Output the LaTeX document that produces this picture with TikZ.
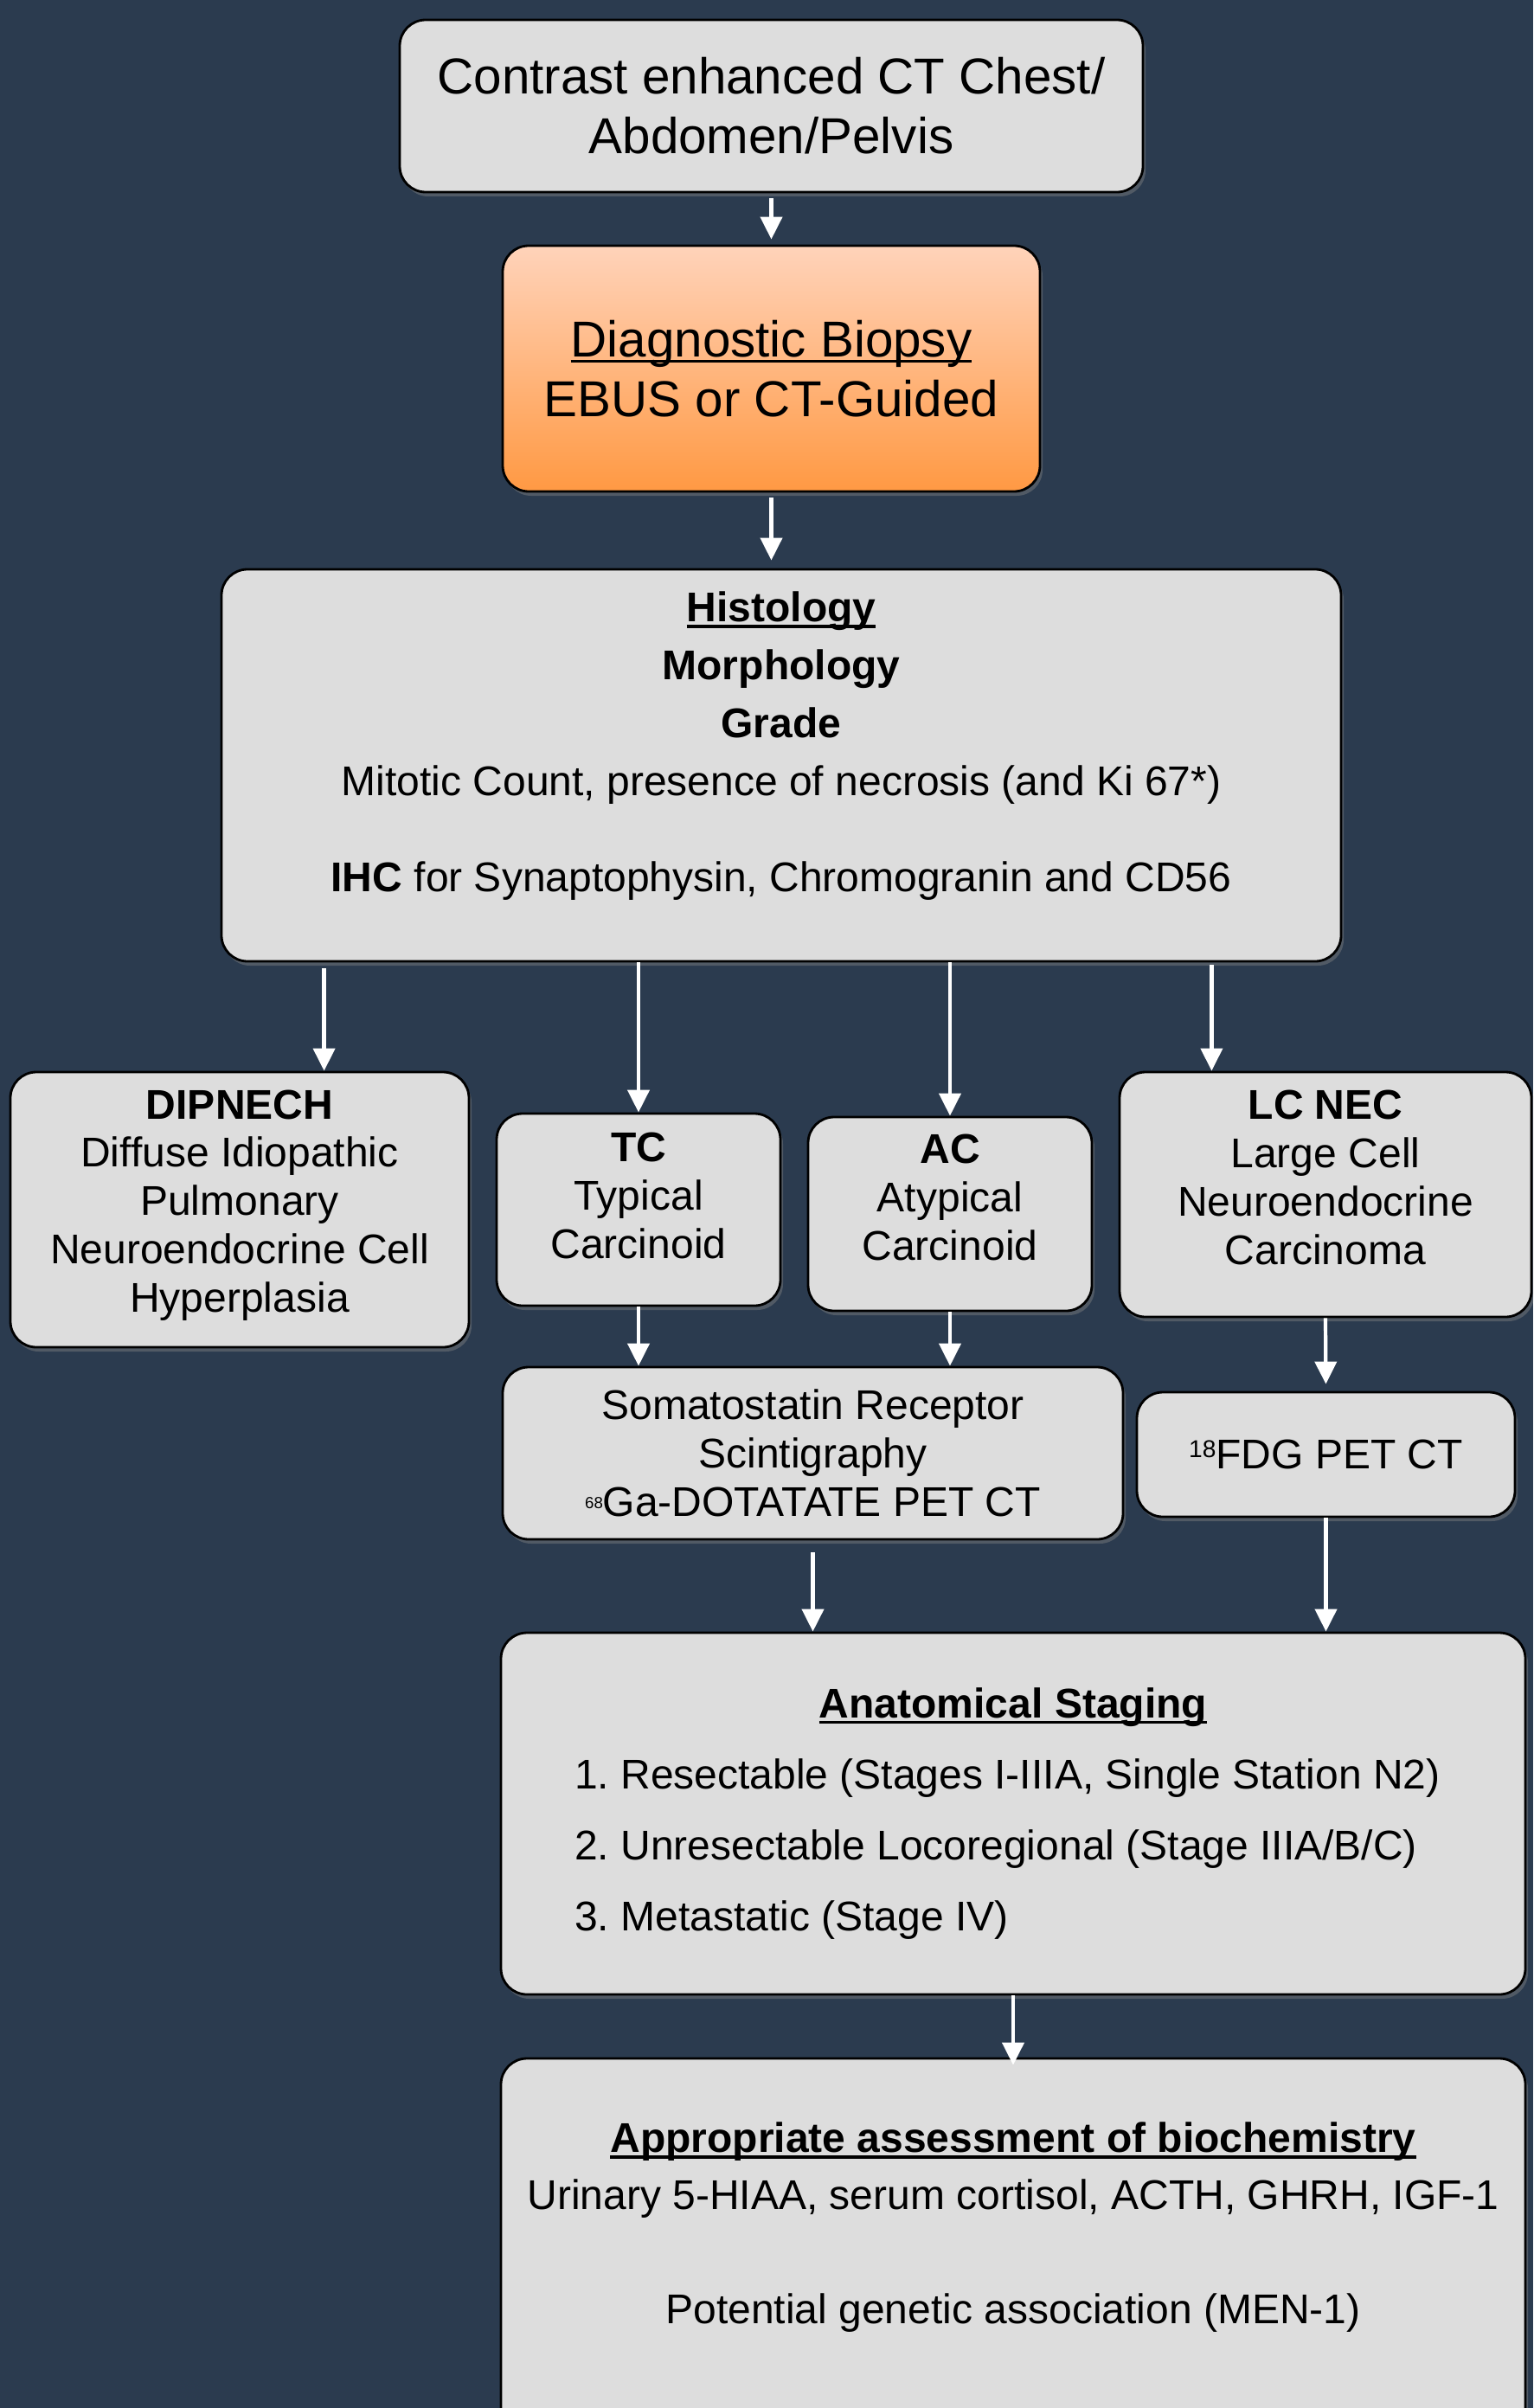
\documentclass[tikz,border=0pt]{standalone}
\usepackage{fontspec}
\setmainfont{Liberation Sans}
\usepackage{tikz}
\usetikzlibrary{arrows.meta,shapes,positioning,calc,shadows}
\definecolor{navybg}{HTML}{2B3B4F}
\definecolor{boxgray}{HTML}{DDDDDD}
\definecolor{biopsytop}{HTML}{FFD3BA}
\definecolor{biopsybottom}{HTML}{FF9943}

\newcommand{\bigtxt}{\fontsize{16.6pt}{19.6pt}\selectfont}
\newcommand{\boxtxt}{\fontsize{13.66pt}{15.9pt}\selectfont}
\newcommand{\undl}[1]{\setbox0\hbox{#1}\rlap{\rule[-0.07cm]{\wd0}{0.035cm}}\box0}

\begin{document}
\begin{tikzpicture}[>=Stealth,
    box/.style={rectangle, rounded corners=0.3cm, draw=black, line width=0.8pt, fill=boxgray, inner sep=0pt, align=center, font=\boxtxt, drop shadow={shadow xshift=0.03cm, shadow yshift=-0.05cm, opacity=0.45}},
    arr/.style={-{Triangle[length=0.26cm, width=0.25cm]}, white, line width=1.2pt}]
      % Background
      \useasboundingbox (0,0) rectangle (17.72,-27.83);
      \fill[navybg] (0,0) rectangle (17.72,-27.83);
      \clip (0,0) rectangle (17.72,-27.83);

      % Imaging and biopsy
      \node[box, font=\bigtxt, minimum width=8.59cm, minimum height=1.99cm] (ct) at (8.915,-1.225) {Contrast enhanced CT Chest/\\Abdomen/Pelvis};
      \node[box, font=\bigtxt, top color=biopsytop, bottom color=biopsybottom, minimum width=6.21cm, minimum height=2.84cm] (biopsy) at (8.915,-4.26) {\undl{Diagnostic Biopsy}\\EBUS or CT-Guided};

      % Histology
      \node[box, minimum width=12.94cm, minimum height=4.53cm] (hist) at (9.03,-8.845) {};
      \node[align=center, font=\fontsize{13.66pt}{19.07pt}\selectfont, inner sep=0pt, anchor=north] (histtext) at (9.03,-6.83) {\textbf{\undl{Histology}}\\\textbf{Morphology}\\\textbf{Grade}\\Mitotic Count, presence of necrosis (and Ki 67*)\\[0.44cm]\textbf{IHC} for Synaptophysin, Chromogranin and CD56};

      % Tumour types
      \node[box, text depth=0.2cm, minimum width=5.30cm, minimum height=3.18cm] (dip) at (2.77,-13.98) {\textbf{DIPNECH}\\Diffuse Idiopathic\\Pulmonary\\Neuroendocrine Cell\\Hyperplasia};
      \node[box, text depth=0.32cm, minimum width=3.28cm, minimum height=2.22cm] (tc) at (7.38,-13.98) {\textbf{TC}\\Typical\\Carcinoid};
      \node[box, text depth=0.39cm, minimum width=3.28cm, minimum height=2.24cm] (ac) at (10.98,-14.03) {\textbf{AC}\\Atypical\\Carcinoid};
      \node[box, text depth=0.39cm, minimum width=4.76cm, minimum height=2.83cm] (lcnec) at (15.32,-13.805) {\textbf{LC NEC}\\Large Cell\\Neuroendocrine\\Carcinoma};

      % Functional imaging
      \node[box, minimum width=7.17cm, minimum height=1.99cm] (srs) at (9.395,-16.795) {Somatostatin Receptor\\Scintigraphy\\\raisebox{0.09cm}{\fontsize{5.3pt}{5.3pt}\selectfont 68}Ga-DOTATATE PET CT};
      \node[box, minimum width=4.37cm, minimum height=1.44cm] (fdg) at (15.325,-16.81) {\raisebox{0.13cm}{\fontsize{8pt}{8pt}\selectfont 18}FDG PET CT};

      % Staging
      \node[box, minimum width=11.84cm, minimum height=4.18cm, font=\fontsize{13.66pt}{23.4pt}\selectfont] (stage) at (11.71,-20.96) {\textbf{\undl{Anatomical Staging}}\\\makebox[10.14cm][l]{1.\ Resectable (Stages I-IIIA, Single Station N2)}\\\makebox[10.14cm][l]{2.\ Unresectable Locoregional (Stage IIIA/B/C)}\\\makebox[10.14cm][l]{3.\ Metastatic (Stage IV)}};

      % Biochemistry
      \node[box, minimum width=11.84cm, minimum height=4.61cm] (bio) at (11.71,-26.095) {};
      \node[align=center, font=\fontsize{13.66pt}{18.8pt}\selectfont, inner sep=0pt, anchor=north] (biotext) at (11.71,-24.52) {\textbf{\undl{Appropriate assessment of biochemistry}}\\Urinary 5-HIAA, serum cortisol, ACTH, GHRH, IGF-1\\[0.66cm]Potential genetic association (MEN-1)};

      % Arrows
      \draw[arr, shorten <=0.06cm, shorten >=0.06cm] (ct) -- (biopsy);
      \draw[arr, shorten <=0.06cm, shorten >=0.09cm] (biopsy.south) -- (biopsy.south |- hist.north);
      \draw[arr, shorten <=0.07cm] ([xshift=1.2cm]hist.south west) -- ([xshift=1.2cm]hist.south west |- dip.north);
      \draw[arr] (tc.north |- hist.south) -- (tc.north);
      \draw[arr] (ac.north |- hist.south) -- (ac.north);
      \draw[arr, shorten <=0.03cm] ([xshift=-1.51cm]hist.south east) -- ([xshift=-1.51cm]hist.south east |- lcnec.north);
      \draw[arr] (tc.south) -- (tc.south |- srs.north);
      \draw[arr] (ac.south) -- (ac.south |- srs.north);
      \draw[arr, shorten >=0.08cm] (lcnec.south) -- (fdg.north);
      \draw[arr, shorten <=0.14cm] (srs.south) -- (srs.south |- stage.north);
      \draw[arr] (fdg.south) -- (fdg.south |- stage.north);
      \draw[arr, shorten >=-0.09cm] (stage.south) -- (bio.north);
\end{tikzpicture}
\end{document}
